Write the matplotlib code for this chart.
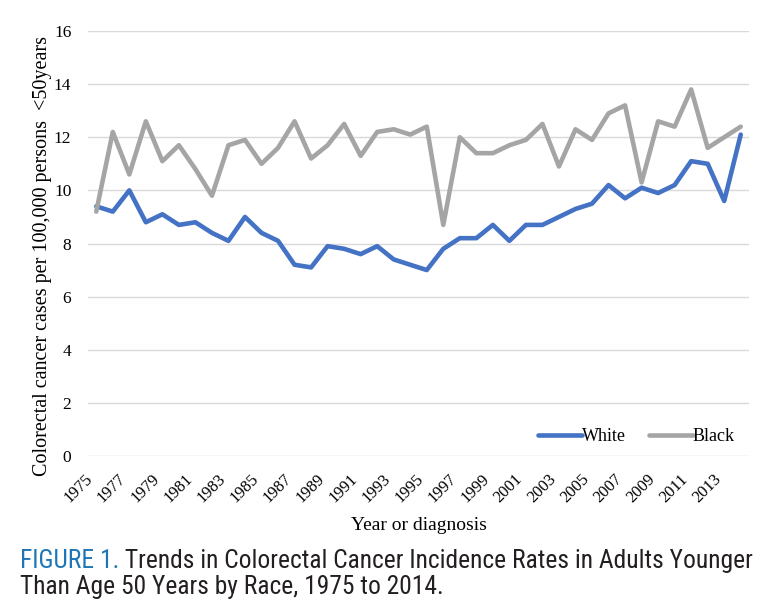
import matplotlib
matplotlib.use("Agg")
import matplotlib.pyplot as plt
import numpy as np

years = list(range(1975, 2015))
white = [9.4, 9.2, 10.0, 8.8, 9.1, 8.7, 8.8, 8.4, 8.1, 9.0,
         8.4, 8.1, 7.2, 7.1, 7.9, 7.8, 7.6, 7.9, 7.4, 7.2,
         7.0, 7.8, 8.2, 8.2, 8.7, 8.1, 8.7, 8.7, 9.0, 9.3,
         9.5, 10.2, 9.7, 10.1, 9.9, 10.2, 11.1, 11.0, 9.6, 12.1]
black = [9.2, 12.2, 10.6, 12.6, 11.1, 11.7, 10.8, 9.8, 11.7, 11.9,
         11.0, 11.6, 12.6, 11.2, 11.7, 12.5, 11.3, 12.2, 12.3, 12.1,
         12.4, 8.7, 12.0, 11.4, 11.4, 11.7, 11.9, 12.5, 10.9, 12.3,
         11.9, 12.9, 13.2, 10.3, 12.6, 12.4, 13.8, 11.6, 12.0, 12.4]
yticks = [0, 2, 4, 6, 8, 10, 12, 14, 16]
xtick_labels = [str(y) for y in years[::2]]

serif = ["Liberation Serif", "DejaVu Serif"]
narrow = ["Roboto Condensed", "Liberation Sans Narrow", "DejaVu Sans"]

fig = plt.figure(figsize=(7.73, 6.13), dpi=100)
ax = fig.add_axes([88/773, 1-456/613, (749-88)/773, (456-31)/613])

x = np.arange(len(years))
ax.plot(x, white, color="#4472C4", lw=3.3, label="White", solid_capstyle="round")
ax.plot(x, black, color="#A5A5A5", lw=3.3, label="Black", solid_capstyle="round")

ax.set_xlim(-0.5, len(years) - 0.5)
ax.set_ylim(0, 16)
ax.tick_params(axis="y", length=0, pad=12)
ax.tick_params(axis="x", length=0, pad=11)
ax.set_yticks(yticks)
ax.set_yticklabels([str(v) for v in yticks], fontfamily=serif, fontsize=12.5)
ax.set_xticks(x[::2])
ax.set_xticklabels(xtick_labels, rotation=45, ha="right", va="top",
                   fontfamily=serif, fontsize=12)
ax.grid(axis="y", color="#D9D9D9", lw=1)
ax.set_axisbelow(True)
for s in ax.spines.values():
    s.set_visible(False)

ax.set_ylabel("Colorectal cancer cases per 100,000 persons  <50years",
              fontfamily=serif, fontsize=14.5)
ax.yaxis.set_label_coords((52 - 88) / 661, (456 - 256) / 425)
ax.set_xlabel("Year or diagnosis", fontfamily=serif, fontsize=14, labelpad=8)

leg = ax.legend(loc="lower right", bbox_to_anchor=(1.003, -0.013), ncol=2, frameon=False,
                prop={"family": serif, "size": 13}, handlelength=2.4,
                handletextpad=0.0, columnspacing=1.3)

cap_kw = dict(fontfamily=narrow, fontsize=18.4)
t1 = fig.text(20/773, 1-568/613, "FIGURE 1.", color="#1F76B6", va="baseline", **cap_kw)
fig.canvas.draw()
ax.annotate(" Trends in Colorectal Cancer Incidence Rates in Adults Younger",
            xy=(1, 0), xycoords=t1, va="bottom", ha="left",
            color="#231F20", annotation_clip=False, **cap_kw)
fig.text(20/773, 1-594/613, "Than Age 50 Years by Race, 1975 to 2014.",
         color="#231F20", va="baseline", **cap_kw)

fig.savefig("out.png", dpi=100)
